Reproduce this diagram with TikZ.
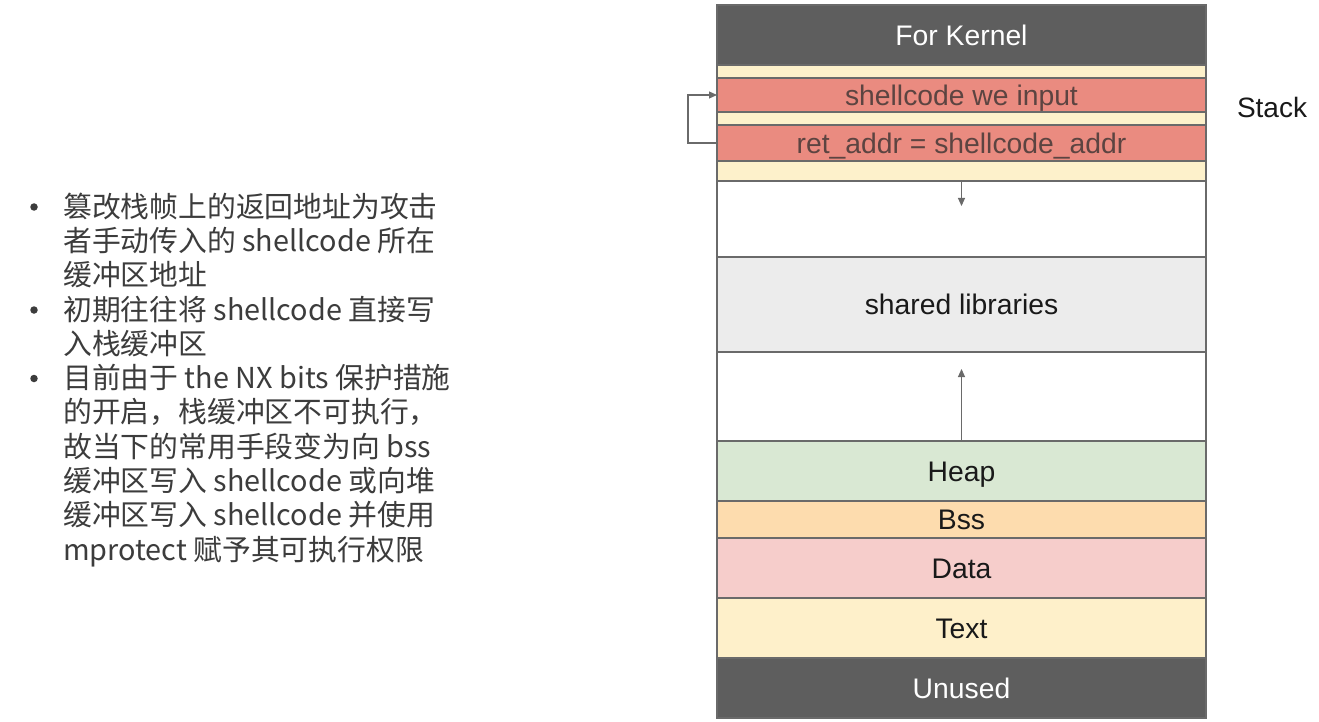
\documentclass[tikz,border=0pt]{standalone}
\usepackage{fontspec}
\setmainfont{Liberation Sans}
\newfontfamily\cjk{Noto Sans CJK SC}
\usetikzlibrary{arrows.meta}

\definecolor{kernelGray}{HTML}{5E5E5E}
\definecolor{frameGray}{HTML}{6A6A6A}
\definecolor{stackCream}{HTML}{FDF1CB}
\definecolor{stackRed}{HTML}{EA8B80}
\definecolor{redText}{HTML}{5C4441}
\definecolor{libGray}{HTML}{ECECEC}
\definecolor{heapGreen}{HTML}{D9E8D3}
\definecolor{bssOrange}{HTML}{FDDCAE}
\definecolor{dataPink}{HTML}{F6CDCB}
\definecolor{textCream}{HTML}{FEF0CA}
\definecolor{noteText}{HTML}{3C3C3C}

\begin{document}
\begin{tikzpicture}[x=1pt,y=-1pt,
	seg/.style={draw=frameGray, line width=1.3pt, minimum width=489pt, inner sep=0pt, outer sep=0pt, font=\fontsize{28.3}{32}\selectfont, text height=20.3pt, text depth=0pt, text=black!90},
	gapStrip/.style={seg, fill=stackCream, text height=0pt},
	growArrow/.style={draw=frameGray, line width=1.1pt, -{Triangle[length=8pt,width=7pt]}},
	item/.style={align=left, anchor=base west, inner sep=0pt, text=noteText, font=\cjk\fontsize{28.8}{34.3}\selectfont},
	bulletDot/.style={circle, fill=noteText, inner sep=0pt, minimum size=7.5pt}]
	\newcommand{\midX}{961.5}
	
	\useasboundingbox (0,0) rectangle (1319,722);
	\fill[white] (0,0) rectangle (1319,722);	% background
	
	% stack column, top to bottom
	\node[seg, fill=kernelGray, text=white, minimum height=60pt] (kernel) at (\midX,35) {For Kernel};
	\node[gapStrip, minimum height=13pt] (gapA) at (\midX,71.5) {};
	\node[seg, fill=stackRed, text=redText, minimum height=34pt] (shell) at (\midX,95) {shellcode we input};
	\node[gapStrip, minimum height=13pt] (gapB) at (\midX,118.5) {};
	\node[seg, fill=stackRed, text=redText, minimum height=36pt] (retaddr) at (\midX,143) {ret\_addr = shellcode\_addr};
	\node[gapStrip, minimum height=20pt] (gapC) at (\midX,171) {};
	\node[seg, fill=white, minimum height=76pt] (freeA) at (\midX,219) {};
	\node[seg, fill=libGray, minimum height=95pt] (shlib) at (\midX,304.5) {shared libraries};
	\node[seg, fill=white, minimum height=89pt] (freeB) at (\midX,396.5) {};
	\node[seg, fill=heapGreen, minimum height=60pt] (heap) at (\midX,471) {Heap};
	\node[seg, fill=bssOrange, minimum height=37pt] (bss) at (\midX,519.5) {Bss};
	\node[seg, fill=dataPink, minimum height=60pt] (data) at (\midX,568) {Data};
	\node[seg, fill=textCream, minimum height=60pt] (text) at (\midX,628) {Text};
	\node[seg, fill=kernelGray, text=white, minimum height=60pt] (unused) at (\midX,688) {Unused};
	
	\node[font=\fontsize{28}{30}\selectfont, text=black!90] (stackLabel) at (1272,107) {Stack};
	
	% growth arrows
	\coordinate (downTip) at (\midX,206);
	\coordinate (upTip) at (\midX,369);
	\draw[growArrow] (freeA.north) -- (downTip);
	\draw[growArrow] (heap.north) -- (upTip);
	
	% return address points back to the shellcode
	\draw[growArrow] (retaddr.west) -- ++(-29,0) |- (shell.west);
	
	% notes on the left (base = baseline of the last line)
	\node[bulletDot] (dotA) at (34,207) {};
	\node[bulletDot] (dotB) at (34,310) {};
	\node[bulletDot] (dotC) at (34,378.5) {};
	\node[item] (itemA) at (63,285.6) {篡改栈帧上的返回地址为攻击\\者手动传入的 shellcode 所在\\缓冲区地址};
	\node[item] (itemB) at (63,354.3) {初期往往将 shellcode 直接写\\入栈缓冲区};
	\node[item] (itemC) at (63,560) {目前由于 the NX bits 保护措施\\的开启，栈缓冲区不可执行，\\故当下的常用手段变为向 bss\\缓冲区写入 shellcode 或向堆\\缓冲区写入 shellcode 并使用\\mprotect 赋予其可执行权限};
\end{tikzpicture}
\end{document}
